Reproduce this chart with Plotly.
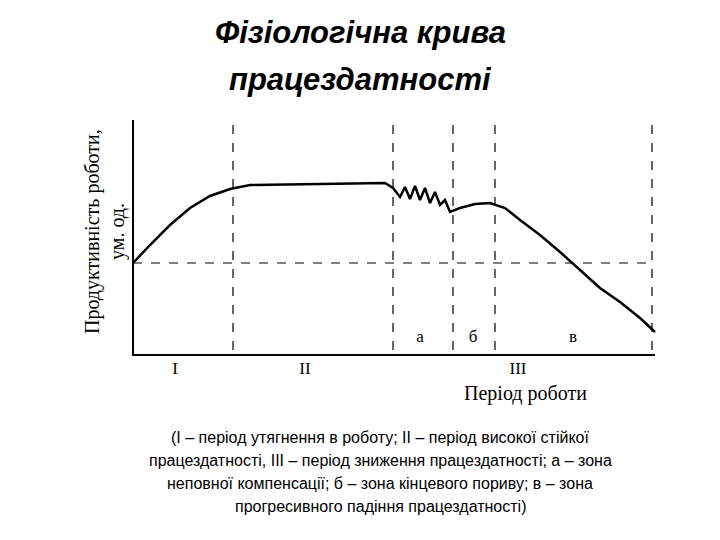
import plotly.graph_objects as go

# curve (pixel-like units, x right, y down)
curve_x = [133, 150, 170, 190, 210, 230, 250, 300, 350, 385, 393, 400, 405, 410, 415, 420, 425, 430,
           435, 440, 445, 450, 460, 475, 490, 505, 520, 540, 560, 580, 600, 620, 640, 655]
curve_y = [263, 245, 225, 208, 196, 189, 185, 184, 183, 183, 188, 197, 187, 199, 186, 200, 188, 203,
           192, 205, 200, 212, 208, 204, 203, 208, 220, 235, 252, 270, 288, 302, 318, 332]
vlines = [233, 393, 453, 495, 652]
hline_y = 263
zone_labels = ["а", "б", "в"]
zone_x = [420, 473, 573]
period_labels = ["I", "II", "III"]
period_x = [175, 305, 518]

serif = "Liberation Serif"
fig = go.Figure()
for xv in vlines:
    fig.add_trace(go.Scatter(x=[xv, xv], y=[125, 355], mode="lines",
                             line=dict(color="black", width=1.2, dash="dash")))
fig.add_trace(go.Scatter(x=[133, 655], y=[hline_y, hline_y], mode="lines",
                         line=dict(color="black", width=1.2, dash="dash")))
fig.add_trace(go.Scatter(x=[133, 133, 655], y=[120, 355, 355], mode="lines",
                         line=dict(color="black", width=2)))
fig.add_trace(go.Scatter(x=curve_x, y=curve_y, mode="lines",
                         line=dict(color="black", width=2.5)))
fig.add_trace(go.Scatter(x=zone_x, y=[338] * 3, mode="text", text=zone_labels,
                         textfont=dict(family=serif, size=17, color="black")))
fig.add_trace(go.Scatter(x=period_x, y=[370] * 3, mode="text", text=period_labels,
                         textfont=dict(family=serif, size=17, color="black")))

ann = [
    dict(x=360, y=32, text="<b><i>Фізіологічна крива</i></b>", font=dict(family="Liberation Sans", size=31)),
    dict(x=360, y=79, text="<b><i>працездатності</i></b>", font=dict(family="Liberation Sans", size=31)),
    dict(x=525, y=393, text="Період роботи", font=dict(family=serif, size=20)),
    dict(x=92, y=232, text="Продуктивність роботи,", textangle=-90, font=dict(family=serif, size=20)),
    dict(x=117, y=232, text="ум. од.", textangle=-90, font=dict(family=serif, size=20)),
]
caption = ["(I – період утягнення в роботу; II – період високої стійкої",
           "працездатності, III – період зниження працездатності; а – зона",
           "неповної компенсації; б – зона кінцевого пориву; в – зона",
           "прогресивного падіння працездатності)"]
for i, line in enumerate(caption):
    ann.append(dict(x=380, y=437 + 23 * i, text=line, font=dict(family="Liberation Sans", size=16)))
for a in ann:
    a.update(xref="x", yref="y", showarrow=False)
    a["font"]["color"] = "black"

# page body has an 8px margin, so shift ranges to line up with the reference
fig.update_layout(
    width=720, height=540, margin=dict(l=0, r=0, t=0, b=0),
    plot_bgcolor="white", paper_bgcolor="white", showlegend=False,
    xaxis=dict(range=[8, 728], visible=False),
    yaxis=dict(range=[548, 8], visible=False),
    annotations=ann,
)
fig.write_html("out.html")
